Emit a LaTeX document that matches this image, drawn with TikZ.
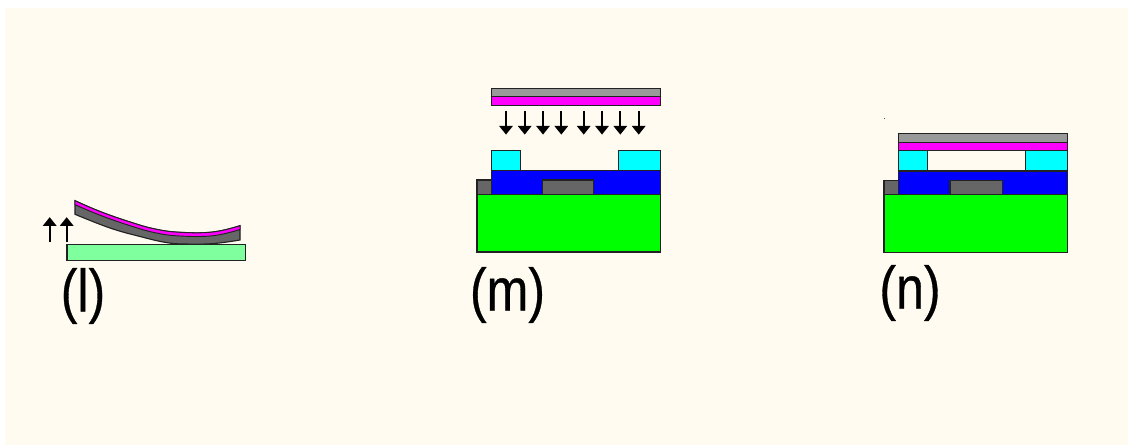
\documentclass[tikz,border=0pt]{standalone}
\usepackage{fontspec}
\setmainfont{Liberation Sans}
\newfontfamily\panelfont[FakeBold=0.6]{Liberation Sans}
\usetikzlibrary{arrows.meta}
\definecolor{cream}{HTML}{FFFBF0}
\definecolor{lgray}{HTML}{999999}
\definecolor{dgray}{HTML}{666666}
\definecolor{mag}{HTML}{FF00FF}
\definecolor{plate}{HTML}{80FF9F}
\definecolor{edge}{HTML}{222222}
\definecolor{cyanlayer}{RGB}{0,255,255}
\definecolor{bluelayer}{RGB}{0,0,255}
\definecolor{greenlayer}{RGB}{0,255,0}
\tikzset{
  layer/.style={draw=edge,line width=0.85pt,line join=miter},
  downarrow/.style={draw=black,line width=1.5pt,-{Triangle[width=10pt,length=6.5pt]}},
  panel/.style={font=\panelfont\fontsize{37.5}{37.5}\selectfont,text=black,inner sep=0pt,xscale=1,yscale=1.2,transform shape}
}
\begin{document}
\begin{tikzpicture}[x=0.75pt,y=-0.75pt]
\useasboundingbox (0,0) rectangle (1128,445);
\fill[white] (0,0) rectangle (1128,445);
\fill[cream] (5,8) rectangle (1128,445);
% panel l
\fill[layer,fill=plate] (67,244.5) rectangle (245.3,260.3);
\fill[layer,fill=dgray] plot[smooth,tension=0.7] coordinates {(75,200.7) (100,211.5) (130,222) (155,229) (180,232.3) (213,232) (240,225.7)} -- plot[smooth,tension=0.7] coordinates {(240,240) (213,243.6) (185,244) (166,242.5) (140,236.5) (110,228) (75,214.3)} -- cycle;
\fill[layer,fill=mag,line width=0.7pt] plot[smooth,tension=0.7] coordinates {(75,200.7) (100,211.5) (130,222) (155,229) (180,232.3) (213,232) (240,225.7)} -- plot[smooth,tension=0.7] coordinates {(240,229.5) (213,235.7) (180,236) (155,232.7) (130,225.7) (100,215.2) (75,204.7)} -- cycle;
\foreach \x [count=\i] in {49.7,66.7}{
  \coordinate (lfrom\i) at (\x,242.3); \coordinate (lto\i) at (\x,217.2);
  \draw[downarrow] (lfrom\i) -- (lto\i);
}
\node[panel] (labl) at (83,296) {(l)};
% panel m
\fill[layer,fill=lgray] (491.3,88.3) rectangle (660.3,96.3);
\fill[layer,fill=mag] (491.3,96.3) rectangle (660.3,105.7);
\foreach \x [count=\i] in {506,524.7,543,561.3,583.7,602,620.3,638.7}{
  \coordinate (mfrom\i) at (\x,111); \coordinate (mto\i) at (\x,134.6);
  \draw[downarrow] (mfrom\i) -- (mto\i);
}
\fill[layer,fill=cyanlayer] (491.3,150.7) rectangle (520.3,170.7);
\fill[layer,fill=cyanlayer] (618.3,150.7) rectangle (660.3,170.7);
\fill[layer,fill=bluelayer] (491.3,170.7) rectangle (660.3,194.3);
\fill[layer,fill=dgray] (477,180) rectangle (491.3,194.3);
\fill[layer,fill=dgray] (542.3,180) rectangle (593.3,194.3);
\fill[layer,fill=greenlayer] (477,194.3) rectangle (660.3,252);
\node[panel] (labm) at (507.5,295) {(m)};
% panel n
\fill[black!70] (883.6,117.6) rectangle (884.6,118.6);
\fill[layer,fill=lgray] (898.7,133.7) rectangle (1067.3,142.7);
\fill[layer,fill=mag] (898.7,142.7) rectangle (1067.3,150.7);
\fill[layer,fill=cyanlayer] (898.7,150.7) rectangle (927.3,171);
\fill[layer,fill=cyanlayer] (1025.7,150.7) rectangle (1067.3,171);
\draw[layer] (927.3,150.7) rectangle (1025.7,171);
\fill[layer,fill=bluelayer] (898.7,171) rectangle (1067.3,194.7);
\fill[layer,fill=dgray] (884,180.3) rectangle (898.7,194.7);
\fill[layer,fill=dgray] (950,180.3) rectangle (1002.3,194.7);
\fill[layer,fill=greenlayer] (884,194.7) rectangle (1067.3,252.3);
\node[panel] (labn) at (910,293) {(n)};
\end{tikzpicture}
\end{document}
